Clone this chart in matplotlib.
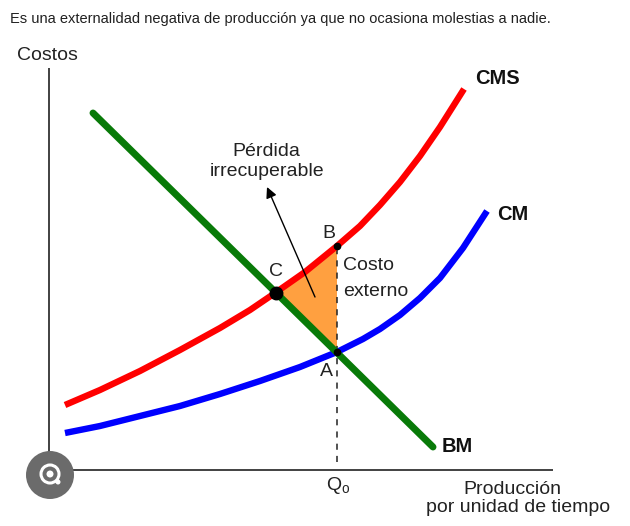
import matplotlib
matplotlib.use("Agg")
import matplotlib.pyplot as plt
from matplotlib.patches import Polygon, Circle

plt.rcParams['font.family'] = ['Liberation Sans', 'DejaVu Sans']

# ---- data (chart units: x = quantity, y = cost) ----
cms_x = [16, 51, 91, 131, 171, 201, 226, 256, 288, 311, 331, 351, 371, 391, 415]
cms_y = [65, 80, 99, 120, 142, 160, 177, 198, 224, 244, 265, 288, 314, 343, 381]

cm_x = [16, 51, 91, 131, 171, 211, 251, 288, 314, 331, 351, 371, 391, 414, 438]
cm_y = [37, 44, 54, 64, 76, 89, 103, 118, 131, 141, 155, 172, 192, 222, 259]

bm_x = [44, 384]
bm_y = [357, 23]

q0 = 288
point_C = (227, 177)
point_B = (288, 224)
point_A = (288, 118)

x_max = 504
y_max = 402

title = "Es una externalidad negativa de producción ya que no ocasiona molestias a nadie."

# ---- figure ----
fig = plt.figure(figsize=(6.30, 5.26), dpi=100)
ax = fig.add_axes([0, 0, 1, 1])
ax.set_xlim(-49, 581)
ax.set_ylim(-56, 470)
ax.axis('off')

txt = '#222222'

# axes lines
ax.plot([0, 0], [0, y_max], color='#333333', lw=1.3, solid_capstyle='butt')
ax.plot([0, x_max], [0, 0], color='#333333', lw=1.3, solid_capstyle='butt')

# deadweight loss triangle
tri = Polygon([point_C, point_B, point_A], closed=True, facecolor='#FFA040',
              edgecolor='none', zorder=2)
ax.add_patch(tri)

# dashed line at Q0
ax.plot([q0, q0], [8, point_B[1]], color='#222222', lw=1.1,
        linestyle=(0, (4, 4)), zorder=3)

# curves
ax.plot(cms_x, cms_y, color='#FF0000', lw=4.6, solid_capstyle='butt',
        solid_joinstyle='round', zorder=4)
ax.plot(cm_x, cm_y, color='#0000FF', lw=4.6, solid_capstyle='butt',
        solid_joinstyle='round', zorder=4)
ax.plot(bm_x, bm_y, color='#087A08', lw=5, solid_capstyle='round', zorder=5)

# points
ax.plot(*point_C, 'o', color='black', ms=9, zorder=6)
ax.plot(*point_B, 'o', color='black', ms=4.5, zorder=6)
ax.plot(*point_A, 'o', color='black', ms=4.5, zorder=6)

# arrow
ax.annotate('', xy=(218, 283), xytext=(266, 173),
            arrowprops=dict(arrowstyle='-|>', color='black', lw=1.0,
                            mutation_scale=16, shrinkA=0, shrinkB=0), zorder=7)

# texts
fs = 14
ax.text(-2, 415, 'Costos', fontsize=fs, color=txt, ha='center', va='center')
ax.text(217, 318, 'Pérdida', fontsize=fs, color=txt, ha='center', va='center')
ax.text(218, 298, 'irrecuperable', fontsize=fs, color=txt, ha='center', va='center')
ax.text(280, 236, 'B', fontsize=fs, color=txt, ha='center', va='center')
ax.text(227, 199, 'C', fontsize=fs, color=txt, ha='center', va='center')
ax.text(277, 99, 'A', fontsize=fs, color=txt, ha='center', va='center')
ax.text(294, 204, 'Costo', fontsize=fs, color=txt, ha='left', va='center')
ax.text(294, 179, 'externo', fontsize=fs, color=txt, ha='left', va='center')
ax.text(426, 391, 'CMS', fontsize=14.5, color='#111111', ha='left', va='center',
        fontweight='bold')
ax.text(448, 256, 'CM', fontsize=14.5, color='#111111', ha='left', va='center',
        fontweight='bold')
ax.text(393, 23, 'BM', fontsize=14.5, color='#111111', ha='left', va='center',
        fontweight='bold')
ax.text(q0 + 1, -15, r'Q$_\mathregular{o}$', fontsize=fs, color=txt,
        ha='center', va='center')
ax.text(463, -19, 'Producción', fontsize=fs, color=txt, ha='center', va='center')
ax.text(469, -38, 'por unidad de tiempo', fontsize=fs, color=txt,
        ha='center', va='center')

# title
fig.text(10 / 630, 1 - 19 / 526, title, fontsize=10.5, color='#202020',
         ha='left', va='center')

# lens overlay icon
ax.add_patch(Circle((1, -5), 24, facecolor='#6b6b6b', edgecolor='none', zorder=8))
ax.add_patch(Circle((1, -4), 9, facecolor='none', edgecolor='white', lw=2.2, zorder=9))
ax.add_patch(Circle((1, -4), 3.5, facecolor='white', edgecolor='none', zorder=9))
ax.add_patch(Circle((9, -12), 2.5, facecolor='white', edgecolor='none', zorder=9))

fig.savefig('out.png', dpi=100)
